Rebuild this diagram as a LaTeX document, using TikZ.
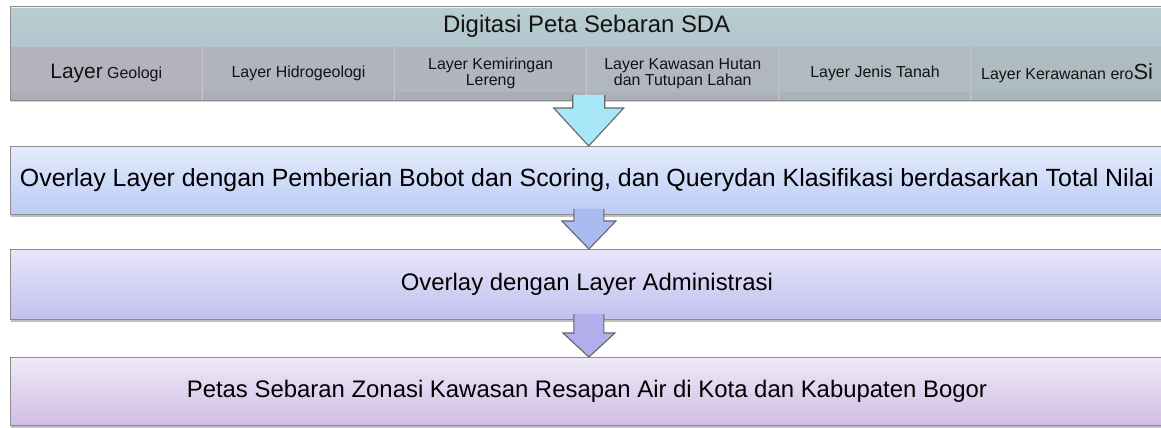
\documentclass[tikz,border=0pt]{standalone}
\usepackage{fontspec}
\setmainfont{Liberation Sans}
\usetikzlibrary{calc,shadows,fit}
\definecolor{bordergray}{HTML}{8C8C8C}
\definecolor{arrgray}{HTML}{666666}
\definecolor{cyanTop}{HTML}{E0F8FD}
\definecolor{cyanBot}{HTML}{D2F1FA}
\definecolor{lyA}{HTML}{D6D5E4}
\definecolor{lyB}{HTML}{D4D7E6}
\definecolor{lyC}{HTML}{D3D9E7}
\definecolor{lyD}{HTML}{D2DCE8}
\definecolor{lyE}{HTML}{D1DFE9}
\definecolor{lyF}{HTML}{D0E2EA}
\definecolor{blueTop}{HTML}{E4EBFC}
\definecolor{blueBot}{HTML}{BACBF4}
\definecolor{lavTop}{HTML}{E6E5F9}
\definecolor{lavBot}{HTML}{C4C0EF}
\definecolor{lilTop}{HTML}{EFE9F7}
\definecolor{lilBot}{HTML}{D1BDE5}
\definecolor{arrCyan}{HTML}{A8E7F8}
\definecolor{arrBlue}{HTML}{A9BCF1}
\definecolor{arrLav}{HTML}{B2AEEC}
\newcommand\fsz[1]{\fontsize{#1}{#1}\selectfont}
\newcommand\blockarrow[6]{%
  \fill[#3] let \p1=(#1.south), \p2=(#2.north) in
    (\x1+2bp-#4,\y1+6bp) -- (\x1+2bp-#4,\y2+#6) -- (\x1+2bp-#5,\y2+#6) -- (\x1+2bp,\y2)
    -- (\x1+2bp+#5,\y2+#6) -- (\x1+2bp+#4,\y2+#6) -- (\x1+2bp+#4,\y1+6bp) -- cycle;
  \draw[arrline] let \p1=(#1.south), \p2=(#2.north) in
    (\x1+2bp-#4,\y1+6bp) -- (\x1+2bp-#4,\y2+#6) -- (\x1+2bp-#5,\y2+#6) -- (\x1+2bp,\y2)
    -- (\x1+2bp+#5,\y2+#6) -- (\x1+2bp+#4,\y2+#6) -- (\x1+2bp+#4,\y1+6bp);
}
\begin{document}
\begin{tikzpicture}[x=1bp,y=-1bp,
  boxline/.style={draw=bordergray, line width=0.8bp},
  arrline/.style={draw=arrgray, line width=1.1bp, line join=miter},
  bigbox/.style={boxline, anchor=north west, minimum width=1153bp,
    inner sep=0pt, font=\fsz{24}, text=black,
    drop shadow={shadow xshift=0.5bp, shadow yshift=-2.5bp, opacity=0.35, fill=black!70}},
  layerbox/.style={anchor=north west, minimum width=192.17bp, minimum height=53bp,
    inner sep=0pt, align=center, font=\fsz{16}, text=black},
]
\useasboundingbox (0,0) rectangle (1161,427);
\fill[white] (0,0) rectangle (1161,427);

% top box
\node[anchor=north west, minimum width=1153bp, minimum height=41bp, inner sep=0pt,
  top color=cyanTop, bottom color=cyanBot, font=\fsz{24}] (title) at (10,6)
  {Digitasi Peta Sebaran SDA};
\node[layerbox, fill=lyA] (l1) at (10,47) {{\fsz{21}Layer} Geologi};
\node[layerbox, fill=lyB] (l2) at (202.17,47) {Layer Hidrogeologi};
\node[layerbox, fill=lyC] (l3) at (394.34,47) {Layer Kemiringan\\Lereng};
\node[layerbox, fill=lyD] (l4) at (586.51,47) {Layer Kawasan Hutan\\dan Tutupan Lahan};
\node[layerbox, fill=lyE] (l5) at (778.68,47) {Layer Jenis Tanah};
\node[layerbox, fill=lyF] (l6) at (970.85,47) {Layer Kerawanan ero{\fsz{22}Si}};
% lower strips and separators
\foreach \i/\c in {0/lyA,1/lyB,2/lyC,3/lyD,4/lyE,5/lyF}{
  \fill[\c!96!black] (10+192.17*\i+1,92) rectangle (10+192.17*\i+191,100);
}
\foreach \i in {1,...,5}{
  \draw[white!88!gray, line width=1bp] (10+192.17*\i,47) -- (10+192.17*\i,100);
}
\node[fit=(title)(l1)(l6), inner sep=0pt, boxline,
  drop shadow={shadow xshift=0.5bp, shadow yshift=-2bp, opacity=0.25, fill=black!70}] (top) {};
\node[fit=(title)(l1)(l6), inner sep=0pt, boxline] {};

% step boxes
\node[bigbox, minimum height=68bp, top color=blueTop, bottom color=blueBot] (b2) at (10,146)
  {\fsz{25}Overlay Layer dengan Pemberian Bobot dan Scoring, dan Querydan Klasifikasi berdasarkan Total Nilai};
\node[bigbox, minimum height=70bp, top color=lavTop, bottom color=lavBot] (b3) at (10,249)
  {Overlay dengan Layer Administrasi};
\node[bigbox, minimum height=68bp, top color=lilTop, bottom color=lilBot] (b4) at (10,357)
  {Petas Sebaran Zonasi Kawasan Resapan Air di Kota dan Kabupaten Bogor};

% block arrows
\blockarrow{top}{b2}{arrCyan}{16bp}{35bp}{38bp}
\blockarrow{b2}{b3}{arrBlue}{15bp}{27bp}{28bp}
\blockarrow{b3}{b4}{arrLav}{15bp}{26bp}{24bp}
\end{tikzpicture}
\end{document}
